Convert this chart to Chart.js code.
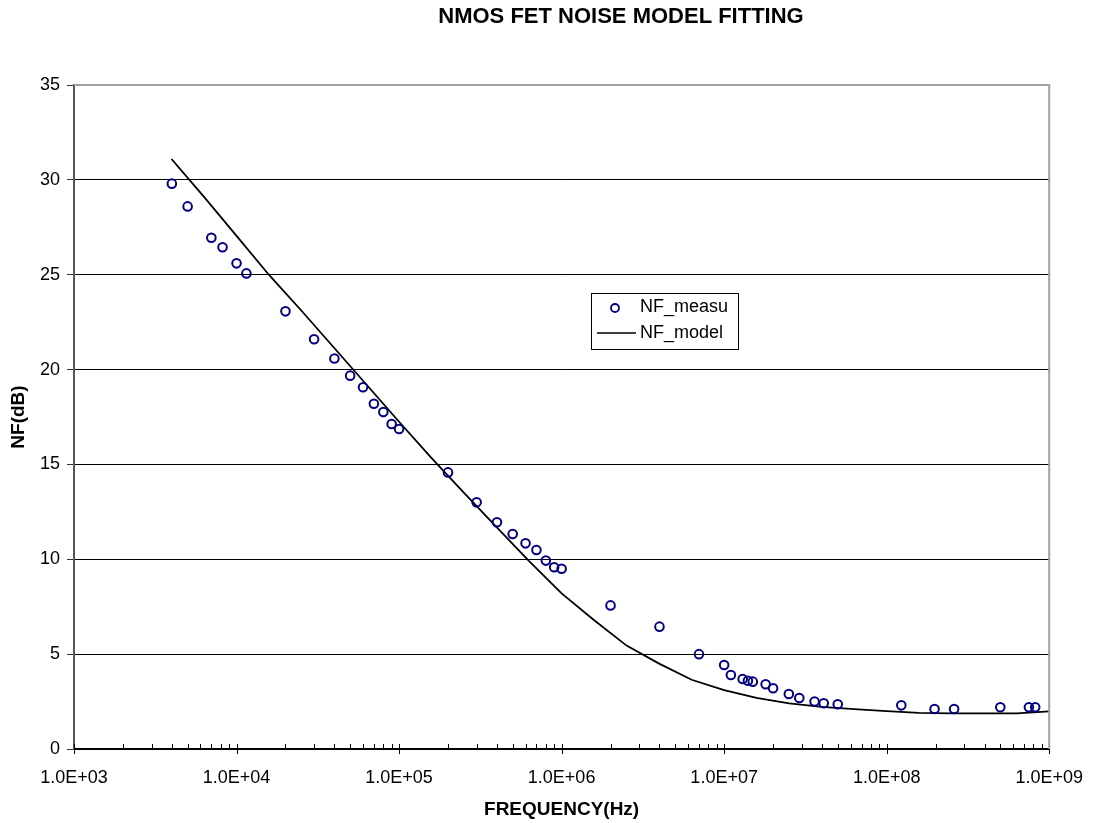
<!DOCTYPE html>
<html lang="en">
<head>
    <meta charset="UTF-8">
    <title>NMOS FET Noise Model Fitting</title>
    <style>
        body {
            margin: 0;
            padding: 0;
            background: #fff;
        }
        .chart-box {
            width: 1093px;
            height: 823px;
        }
    </style>
</head>
<body>
    <div class="chart-box">
        <canvas id="nf-chart" width="1093" height="823"></canvas>
    </div>

    <script src="https://cdn.jsdelivr.net/npm/chart.js"></script>
    <script>
        // measured noise figure
        const measFreq = [4e3, 5e3, 7e3, 8.2e3, 1e4, 1.15e4, 2e4, 3e4, 4e4, 5e4, 6e4, 7e4, 8e4, 9e4, 1e5,
            2e5, 3e5, 4e5, 5e5, 6e5, 7e5, 8e5, 9e5, 1e6, 2e6, 4e6, 7e6, 1e7, 1.1e7, 1.3e7, 1.4e7, 1.5e7,
            1.8e7, 2e7, 2.5e7, 2.9e7, 3.6e7, 4.1e7, 5e7, 1.23e8, 1.97e8, 2.6e8, 5e8, 7.5e8, 8.2e8];
        const measNF = [29.8, 28.6, 26.95, 26.45, 25.6, 25.07, 23.07, 21.6, 20.58, 19.68, 19.07, 18.2, 17.76, 17.13, 16.87,
            14.58, 13.0, 11.95, 11.33, 10.84, 10.49, 9.93, 9.58, 9.5, 7.57, 6.45, 5.0, 4.43, 3.9, 3.69, 3.6, 3.55,
            3.41, 3.2, 2.9, 2.69, 2.5, 2.41, 2.36, 2.3, 2.11, 2.11, 2.2, 2.2, 2.2];

        // model curve
        const modelFreq = [3.98e3, 6.31e3, 1e4, 1.58e4, 2.51e4, 3.98e4, 6.31e4, 1e5, 1.58e5, 2.51e5, 3.98e5, 6.31e5,
            1e6, 1.58e6, 2.51e6, 3.98e6, 6.31e6, 1e7, 1.58e7, 2.51e7, 3.98e7, 6.31e7, 1e8, 1.58e8, 2.51e8, 3.98e8,
            6.31e8, 1e9];
        const modelNF = [31.1, 29.1, 27.05, 25.0, 23.1, 21.15, 19.2, 17.25, 15.35, 13.5, 11.7, 9.9,
            8.2, 6.8, 5.45, 4.5, 3.65, 3.1, 2.7, 2.4, 2.22, 2.1, 2.0, 1.9, 1.88, 1.88,
            1.88, 1.98];

        // axis ticks
        const freqDecades = [1e3, 1e4, 1e5, 1e6, 1e7, 1e8, 1e9];
        const freqLabels = ['1.0E+03', '1.0E+04', '1.0E+05', '1.0E+06', '1.0E+07', '1.0E+08', '1.0E+09'];
        const nfTicks = [0, 5, 10, 15, 20, 25, 30, 35];

        const FONT = 'Arial, "Liberation Sans", sans-serif';

        const toPoints = (xs, ys) => xs.map((x, i) => ({ x: x, y: ys[i] }));

        // title, plot frame, minor/major x ticks and the boxed legend
        const decorPlugin = {
            id: 'decor',
            afterDraw(chart) {
                const ctx = chart.ctx;
                const area = chart.chartArea;
                const xs = chart.scales.x;

                ctx.save();
                // x tick marks: minor inside, major across the axis
                ctx.strokeStyle = '#000';
                ctx.lineWidth = 1;
                xs.ticks.forEach(t => {
                    const px = Math.round(xs.getPixelForValue(t.value)) + 0.5;
                    ctx.beginPath();
                    ctx.moveTo(px, area.bottom - 5);
                    ctx.lineTo(px, area.bottom + (t.major ? 5 : 0));
                    ctx.stroke();
                });

                // top and right frame
                ctx.strokeStyle = '#a0a0a0';
                ctx.lineWidth = 2;
                ctx.beginPath();
                ctx.moveTo(area.left, area.top);
                ctx.lineTo(area.right, area.top);
                ctx.lineTo(area.right, area.bottom);
                ctx.stroke();

                // chart title
                ctx.fillStyle = '#000';
                ctx.font = 'bold 22px ' + FONT;
                ctx.textAlign = 'center';
                ctx.textBaseline = 'middle';
                ctx.fillText('NMOS FET NOISE MODEL FITTING', 621, 17);

                // legend
                const lx = 591, ly = 293, lw = 147, lh = 56;
                ctx.fillStyle = '#fff';
                ctx.fillRect(lx, ly, lw, lh);
                ctx.strokeStyle = '#000';
                ctx.lineWidth = 1;
                ctx.strokeRect(lx + 0.5, ly + 0.5, lw, lh);

                ctx.strokeStyle = '#000080';
                ctx.lineWidth = 1.8;
                ctx.beginPath();
                ctx.arc(615, 308, 4, 0, Math.PI * 2);
                ctx.stroke();

                ctx.strokeStyle = '#000';
                ctx.lineWidth = 1.6;
                ctx.beginPath();
                ctx.moveTo(597, 333);
                ctx.lineTo(636, 333);
                ctx.stroke();

                ctx.fillStyle = '#000';
                ctx.font = '18px ' + FONT;
                ctx.textAlign = 'left';
                ctx.fillText('NF_measu', 640, 307);
                ctx.fillText('NF_model', 640, 333);
                ctx.restore();
            }
        };

        const ctx = document.getElementById('nf-chart').getContext('2d');
        new Chart(ctx, {
            type: 'scatter',
            data: {
                datasets: [
                    {
                        label: 'NF_measu',
                        data: toPoints(measFreq, measNF),
                        showLine: false,
                        pointStyle: 'circle',
                        pointRadius: 4.3,
                        pointBorderWidth: 2,
                        pointBorderColor: '#000080',
                        pointBackgroundColor: 'rgba(0,0,0,0)',
                        order: 1
                    },
                    {
                        label: 'NF_model',
                        data: toPoints(modelFreq, modelNF),
                        showLine: true,
                        borderColor: '#000',
                        borderWidth: 1.8,
                        pointRadius: 0,
                        tension: 0,
                        fill: false,
                        order: 2
                    }
                ]
            },
            options: {
                responsive: false,
                animation: false,
                layout: {
                    padding: { top: 85, right: 41, left: 0, bottom: 0 }
                },
                plugins: {
                    legend: { display: false },
                    title: { display: false },
                    tooltip: { enabled: false }
                },
                scales: {
                    x: {
                        type: 'logarithmic',
                        min: 1e3,
                        max: 1e9,
                        afterFit(scale) { scale.height = 74; },
                        afterBuildTicks(scale) {
                            const ticks = [];
                            freqDecades.forEach((d, i) => {
                                ticks.push({ value: d, major: true });
                                if (i < freqDecades.length - 1) {
                                    for (let s = 2; s <= 9; s++) ticks.push({ value: d * s, major: false });
                                }
                            });
                            scale.ticks = ticks;
                        },
                        ticks: {
                            autoSkip: false,
                            maxRotation: 0,
                            padding: 10,
                            color: '#000',
                            font: { family: FONT, size: 18 },
                            callback(value) {
                                const i = freqDecades.indexOf(value);
                                return i >= 0 ? freqLabels[i] : '';
                            }
                        },
                        grid: {
                            drawOnChartArea: false,
                            drawTicks: true,
                            tickLength: 8,
                            color: 'rgba(0,0,0,0)'
                        },
                        border: { display: true, color: '#000', width: 1.5 },
                        title: {
                            display: true,
                            text: 'FREQUENCY(Hz)',
                            color: '#000',
                            font: { family: FONT, size: 19, weight: 'bold' },
                            padding: { top: 0, bottom: 2 }
                        }
                    },
                    y: {
                        min: 0,
                        max: 35,
                        afterFit(scale) { scale.width = 74; },
                        afterBuildTicks(scale) {
                            scale.ticks = nfTicks.map(v => ({ value: v }));
                        },
                        ticks: {
                            padding: 7,
                            color: '#000',
                            font: { family: FONT, size: 18 }
                        },
                        grid: {
                            color: '#000',
                            lineWidth: 1,
                            tickLength: 7,
                            tickColor: '#333'
                        },
                        border: { display: true, color: '#555', width: 2 },
                        title: {
                            display: true,
                            text: 'NF(dB)',
                            color: '#000',
                            font: { family: FONT, size: 19, weight: 'bold' },
                            padding: { top: 7, bottom: 0 }
                        }
                    }
                }
            },
            plugins: [decorPlugin]
        });
    </script>
</body>
</html>
